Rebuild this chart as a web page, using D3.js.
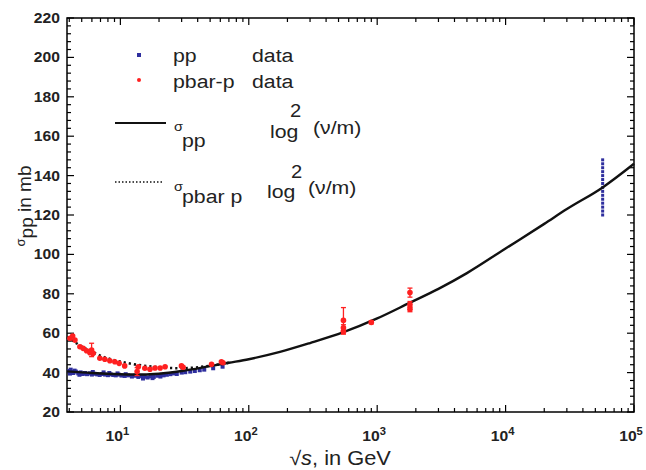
<!DOCTYPE html>
<html><head><meta charset="utf-8">
<script src="https://cdn.jsdelivr.net/npm/d3@7"></script>
<style>body{margin:0;background:#fff}text{font-family:"Liberation Sans",Arial,sans-serif}</style>
</head><body><svg id="c" width="646" height="470"></svg>
<script>
// ---- data (sqrt(s) in GeV, sigma in mb) ----
const ppLow = [[4.0,40.8],[4.05,39.5],[4.1,41.5],[4.2,40.2],[4.3,39.8],[4.4,41.0],[4.5,40.5],[4.7,39.6],[4.8,38.9],[4.9,40.1],[5.1,39.3],[5.3,39.8],[5.5,39.2],[5.8,39.6],[6.0,39.0],[6.1,40.3],[6.3,39.4],[6.6,39.1],[6.9,38.8],[7.2,39.3],[7.4,40.1],[7.6,39.0],[8.0,38.7],[8.2,39.8],[8.4,39.1],[8.8,38.8],[9.2,38.6],[9.5,39.6],[9.7,39.0],[10.2,38.5],[10.8,38.3],[11.0,39.2],[11.5,38.6],[12.3,38.0],[13.0,38.4],[13.8,37.8],[14.5,38.3],[15.0,37.0],[15.4,37.9],[16.3,37.5],[17.2,38.1],[17.8,37.2],[18.2,37.8],[19.4,38.4],[20.5,38.0],[21.0,38.9],[21.7,38.6],[23.0,38.9],[24.5,39.2],[26.0,39.6],[27.5,39.3],[30.0,40.0],[32.0,40.2],[35.0,40.5],[38.0,40.8],[41.5,41.2],[45.0,41.5],[52.8,42.2],[62.5,43.0]];
const ppAuger = [[57000,120],[57000,122],[57000,124],[57000,126],[57000,128],[57000,130],[57000,132],[57000,134],[57000,136],[57000,138],[57000,140],[57000,142],[57000,144],[57000,146],[57000,148]];
// [sqrt s, sigma, error]
const pbarp = [[4.05,57.4,0],[4.25,58.6,0],[4.43,56.5,0],[4.84,53.1,0],[5.13,52.3,0],[5.46,51.1,0],[5.79,50.1,0],[5.97,51.5,3.4],[6.14,49.8,0],[6.92,47.3,0],[7.57,46.8,0],[8.28,46.0,0],[9.05,45.5,0],[9.78,44.7,0],[10.8,43.4,0],[13.8,43.0,0],[13.5,40.5,2.0],[15.5,42.2,0],[17.0,41.7,0],[18.6,42.3,0],[20.4,42.3,0],[22.3,43.0,0],[29.9,43.4,0],[30.8,42.7,0],[51.3,44.2,0],[61.2,45.5,0],[63.0,45.0,0],[546,61.0,1.5],[546,62.8,1.5],[546,66.5,6.5],[900,65.5,0.8],[1800,80.6,2.3],[1800,74.6,1.5],[1800,72.2,1.3]];
const fitPP = [[3.84,40.6],[6,39.8],[10,39.2],[15,39.0],[20,39.4],[30,40.8],[50,43.3],[70,45.0],[100,46.8],[175,50.5],[300,55.0],[546,60.5],[1000,67.5],[1800,75.5],[3000,82.5],[5000,90.5],[10000,103],[20000,115.5],[30000,123],[57000,134],[100000,146]];
const fitPbarP = [[3.84,58.0],[5,53.3],[6,50.6],[7,48.6],[8,47.2],[10,45.6],[14,43.8],[20,42.7],[30,42.2],[50,43.5],[70,45.0]];
const yTicks = [20,40,60,80,100,120,140,160,180,200,220];
const xTicks = [10,100,1000,10000,100000];
const xTickExp = ["1","2","3","4","5"];

const svg = d3.select("#c");
const x = d3.scaleLog().domain([3.84,100000]).range([67,634]);
const y = d3.scaleLinear().domain([20,220]).range([412,18]);
const SX = 1.12;
function txt(parent, px, py, size, s, anchor){
  const t = parent.append("text").attr("transform",`translate(${px},${py}) scale(${SX},1)`).attr("font-size",size);
  if(anchor) t.attr("text-anchor",anchor);
  if(s!==undefined) t.text(s);
  return t;
}

// frame ticks
const g = svg.append("g");
d3.range(20,221,4).forEach(v=>{
  const L = v%20===0?7:4;
  g.append("line").attr("x1",67).attr("x2",67+L).attr("y1",y(v)).attr("y2",y(v)).attr("stroke","#000").attr("stroke-width",1.2);
  g.append("line").attr("x1",634).attr("x2",634-L).attr("y1",y(v)).attr("y2",y(v)).attr("stroke","#000").attr("stroke-width",1.2);
});
const xAll = [];
[1,10,100,1000,10000].forEach(d=>{for(let k=1;k<10;k++){const v=d*k; if(v>=3.84&&v<=100000) xAll.push(v);}});
xAll.push(100000);
xAll.forEach(v=>{
  const lg=Math.log10(v), L=Math.abs(lg-Math.round(lg))<1e-9?7:4;
  g.append("line").attr("x1",x(v)).attr("x2",x(v)).attr("y1",412).attr("y2",412-L).attr("stroke","#000").attr("stroke-width",1.2);
  g.append("line").attr("x1",x(v)).attr("x2",x(v)).attr("y1",18).attr("y2",18+L).attr("stroke","#000").attr("stroke-width",1.2);
});
g.append("rect").attr("x",67).attr("y",18).attr("width",567).attr("height",394).attr("fill","none").attr("stroke","#000").attr("stroke-width",1.5);

// tick labels
const tl = svg.append("g").attr("fill","#222").attr("font-weight","bold");
yTicks.forEach(v=>{ txt(tl,60,y(v)+5,14,v,"end"); });
xTicks.forEach((v,i)=>{
  const t = txt(tl,x(v)-3,441,14,undefined,"middle");
  t.append("tspan").text("10");
  t.append("tspan").attr("dy",-6).attr("font-size",10).text(xTickExp[i]);
});

// axis titles
const yt = svg.append("text").attr("transform","translate(31,206) rotate(-90)").attr("text-anchor","middle").attr("font-size",19).attr("fill","#222");
yt.append("tspan").attr("font-size",13).attr("dy",-6).text("σ");
yt.append("tspan").attr("dy",8).text("pp");
yt.append("tspan").attr("dy",-2).text(" in mb");
const xt = txt(svg,340,465,19.5,undefined,"middle").attr("fill","#222");
xt.append("tspan").text("√");
xt.append("tspan").attr("font-style","italic").text("s");
xt.append("tspan").text(", in GeV");

// curves
const line = d3.line().x(d=>x(d[0])).y(d=>y(d[1])).curve(d3.curveMonotoneX);
svg.append("path").datum(fitPbarP).attr("d",line).attr("fill","none").attr("stroke","#111").attr("stroke-width",2.6).attr("stroke-dasharray","2.2,3");

// data
svg.append("g").selectAll("rect").data(ppLow).join("rect")
  .attr("x",d=>x(d[0])-2).attr("y",d=>y(d[1])-2).attr("width",4).attr("height",4).attr("fill","#2e2e9e");
svg.append("g").selectAll("rect").data(ppAuger).join("rect")
  .attr("x",d=>x(d[0])-1.5).attr("y",d=>y(d[1])-1.5).attr("width",3).attr("height",3).attr("fill","#2e2e9e");
svg.append("path").datum(fitPP).attr("d",line).attr("fill","none").attr("stroke","#111").attr("stroke-width",2.4);
const rg = svg.append("g");
const withErr = pbarp.filter(d=>d[2]>0);
rg.selectAll("line.e").data(withErr).join("line").attr("class","e")
  .attr("x1",d=>x(d[0])).attr("x2",d=>x(d[0])).attr("y1",d=>y(d[1]-d[2])).attr("y2",d=>y(d[1]+d[2])).attr("stroke","#ff2020").attr("stroke-width",1.3);
rg.selectAll("line.c").data(withErr.flatMap(d=>[[d[0],d[1]-d[2]],[d[0],d[1]+d[2]]])).join("line").attr("class","c")
  .attr("x1",d=>x(d[0])-2.5).attr("x2",d=>x(d[0])+2.5).attr("y1",d=>y(d[1])).attr("y2",d=>y(d[1])).attr("stroke","#ff2020").attr("stroke-width",1.3);
rg.selectAll("circle").data(pbarp).join("circle").attr("cx",d=>x(d[0])).attr("cy",d=>y(d[1])).attr("r",2.8).attr("fill","#ff2020");

// legend
const lg = svg.append("g").attr("fill","#222");
lg.append("rect").attr("x",137).attr("y",53).attr("width",4).attr("height",4).attr("fill","#2e2e9e");
txt(lg,173,62,19,"pp");
txt(lg,252,62,19,"data");
lg.append("circle").attr("cx",139).attr("cy",80).attr("r",2).attr("fill","#ff2020");
txt(lg,173,88,19,"pbar-p");
txt(lg,252,88,19,"data");
function formula(px, py, supX, supY, parX, parY){
  const t = txt(lg,px,py,19);
  t.append("tspan").text("log");
  t.append("tspan").attr("x",(supX-px)/SX).attr("dy",supY-py).attr("font-size",18).text("2");
  t.append("tspan").attr("x",(parX-px)/SX).attr("dy",parY-supY).attr("font-size",19).text("(ν/m)");
}
lg.append("line").attr("x1",115).attr("x2",166).attr("y1",123).attr("y2",123).attr("stroke","#111").attr("stroke-width",2);
const s1 = txt(lg,174,131,13);
s1.append("tspan").text("σ");
s1.append("tspan").attr("font-size",19).attr("x",8/SX).attr("dy",16).text("pp");
formula(270,138,290,117,313,134);
lg.append("line").attr("x1",115).attr("x2",162).attr("y1",182).attr("y2",182).attr("stroke","#111").attr("stroke-width",1.6).attr("stroke-dasharray","1.5,2");
const s2 = txt(lg,174,191,13);
s2.append("tspan").text("σ");
s2.append("tspan").attr("font-size",19).attr("x",8/SX).attr("dy",12).text("pbar p");
formula(267,198,291,178,308,194);
</script></body></html>
